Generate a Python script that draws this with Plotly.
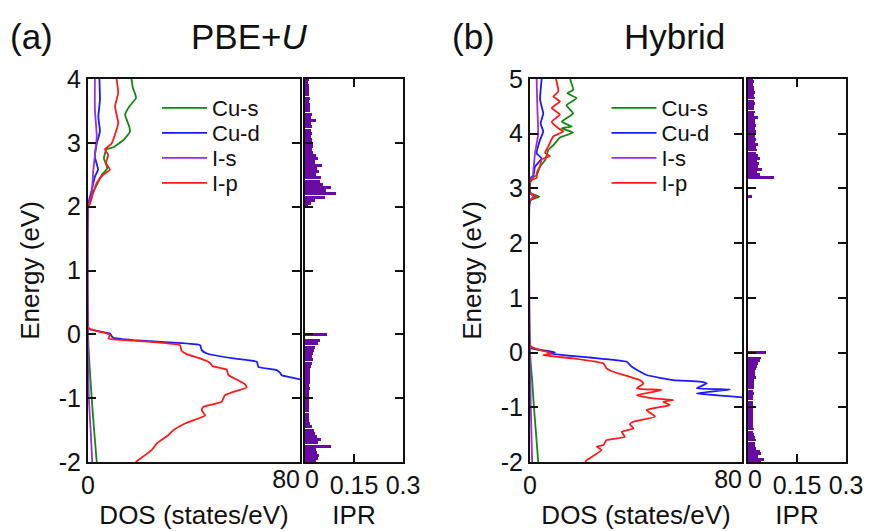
import plotly.graph_objects as go

W, H = 872, 531
def px(x): return x / W
def py(y): return 1 - y / H

# ---------------- data ----------------
series_names = ["Cu-s", "Cu-d", "I-s", "I-p"]
series_colors = ["#118a11", "#1a1aff", "#9a30d8", "#ff1a1a"]

# Panel (a) PBE+U : projected DOS (states/eV) vs energy (eV)
a_cus_E = [4.0, 3.85, 3.78, 3.70, 3.57, 3.44, 3.25, 3.17, 3.04, 2.93, 2.90, 2.76, 2.60, 2.50, 2.34, 2.18, 2.03, 2.0,
           0.0, -0.5, -1.0, -1.5, -2.0]
a_cus_D = [16.4, 17.0, 17.7, 18.1, 15.6, 14.0, 15.6, 15.8, 13.3, 9.5, 7.0, 6.0, 7.3, 5.2, 3.3, 1.4, 0.5, 0.0,
           0.0, 0.6, 1.4, 2.3, 3.3]
a_cud_E = [4.0, 3.67, 3.41, 3.18, 2.99, 2.78, 2.58, 2.47, 2.26, 2.10, 2.0,
           0.10, 0.076, 0.014, -0.028, -0.054, -0.09, -0.13, -0.169, -0.248, -0.30, -0.378, -0.43, -0.51, -0.561,
           -0.603, -0.64, -0.707, -0.80]
a_cud_D = [4.3, 4.5, 3.9, 4.5, 3.3, 2.6, 3.8, 2.6, 1.4, 0.4, 0.0,
           0.0, 0.8, 8.3, 8.9, 9.6, 17.1, 32.2, 42.3, 42.9, 44.8, 54.8, 63.7, 64.3, 71.2,
           72.5, 73.1, 80.0, 86.0]
a_is_E = [4.0, 3.52, 3.10, 2.57, 2.21, 2.05, 2.0, 0.0, -0.5, -1.0, -1.5, -2.0]
a_is_D = [2.6, 2.6, 3.3, 2.0, 1.4, 0.4, 0.0, 0.0, 0.1, 0.3, 1.0, 1.6]
a_ip_E = [4.0, 3.78, 3.57, 3.31, 3.13, 2.99, 2.90, 2.81, 2.68, 2.58, 2.50, 2.37, 2.21, 2.05, 2.0,
          0.12, 0.092, 0.039, 0.014, -0.013, -0.065, -0.10, -0.13, -0.169, -0.258, -0.31, -0.378, -0.446, -0.498,
          -0.551, -0.64, -0.707, -0.781, -0.833, -0.901, -0.953, -1.058, -1.136, -1.188, -1.266, -1.319, -1.397,
          -1.502, -1.58, -1.711, -1.815, -2.0]
a_ip_D = [10.8, 11.4, 10.2, 11.4, 10.2, 8.9, 6.4, 7.6, 6.8, 8.3, 5.7, 3.3, 1.9, 0.8, 0.0,
          0.0, 0.5, 4.5, 7.0, 8.3, 7.7, 17.1, 27.2, 34.7, 35.3, 37.2, 42.3, 46.0, 47.0,
          52.3, 53.0, 56.1, 59.2, 59.9, 54.8, 51.7, 50.4, 43.5, 42.9, 44.2, 41.6, 36.6,
          32.2, 30.3, 25.9, 24.0, 18.0]

# Panel (b) Hybrid
b_cus_E = [5.0, 4.80, 4.74, 4.65, 4.52, 4.37, 4.22, 4.13, 4.10, 4.02, 3.93, 3.79, 3.70, 3.52, 3.40, 3.24, 3.21, 3.15,
           3.10, 2.92, 2.85, 2.78, 0.0, -0.5, -1.0, -1.5, -2.0]
b_cus_D = [15.1, 16.3, 14.1, 17.6, 13.8, 16.3, 12.0, 15.7, 12.0, 16.3, 11.3, 8.8, 6.9, 5.7, 3.8, 2.5, 1.3, 0.6,
           0.0, 0.0, 3.5, 0.0, 0.0, 0.8, 1.5, 2.3, 3.1]
b_cud_E = [5.0, 4.62, 4.37, 4.19, 4.04, 3.89, 3.64, 3.55, 3.40, 3.24, 3.18, 2.92, 2.85, 2.78,
           0.10, 0.077, 0.003, -0.015, -0.09, -0.168, -0.26, -0.41, -0.503, -0.53, -0.563, -0.655, -0.674,
           -0.747, -0.82, -0.86]
b_cud_D = [4.4, 3.8, 5.0, 4.0, 5.0, 3.8, 2.5, 4.4, 1.9, 1.3, 0.0, 0.0, 2.0, 0.0,
           0.0, 0.6, 9.4, 6.9, 22.6, 36.5, 38.4, 44.0, 54.1, 64.2, 66.7, 62.9, 75.5,
           62.9, 79.9, 84.0]
b_is_E = [5.0, 4.43, 4.00, 3.64, 3.34, 3.21, 3.18, 2.92, 2.85, 2.78, 0.0, -1.0, -2.0]
b_is_D = [2.5, 2.8, 3.1, 1.9, 1.3, 1.0, 0.0, 0.0, 1.3, 0.0, 0.0, 0.3, 0.8]
b_ip_E = [5.0, 4.77, 4.68, 4.59, 4.47, 4.35, 4.22, 4.10, 4.04, 3.95, 3.77, 3.65, 3.59, 3.53, 3.41, 3.28, 3.19, 3.16,
          3.12, 2.92, 2.85, 2.78,
          0.13, 0.106, 0.045, -0.015, -0.046, -0.107, -0.198, -0.29, -0.35, -0.503, -0.563, -0.655, -0.686,
          -0.777, -0.838, -0.868, -0.899, -0.96, -1.05, -1.17, -1.265, -1.31, -1.386, -1.45, -1.54, -1.60,
          -1.69, -1.72, -1.78, -1.965, -2.0]
b_ip_D = [9.8, 10.7, 8.8, 11.3, 8.2, 11.3, 8.2, 10.7, 12.6, 8.8, 6.9, 5.7, 7.5, 4.4, 3.8, 2.5, 2.5, 0.6,
          0.0, 0.0, 2.5, 0.0,
          0.0, 0.6, 3.8, 8.2, 5.0, 16.4, 27.7, 28.9, 31.4, 41.5, 42.8, 40.3, 49.7,
          40.3, 46.5, 54.1, 50.3, 52.8, 44.0, 47.2, 39.0, 37.7, 39.0, 34.6, 35.8, 28.9,
          27.7, 25.2, 27.0, 21.4, 20.8]

# IPR (inverse participation ratio) per state
a_ipr_E = [4.00, 3.95, 3.90, 3.85, 3.80, 3.75, 3.70, 3.65, 3.60, 3.55, 3.50, 3.45, 3.40, 3.35, 3.30, 3.25, 3.20,
           3.15, 3.10, 3.05, 3.00, 2.95, 2.90, 2.85, 2.80, 2.75, 2.70, 2.65, 2.60, 2.55, 2.50, 2.45, 2.40, 2.35,
           2.30, 2.25, 2.20, 2.15, 2.10, 2.05, 2.00,
           0.00, -0.10, -0.15, -0.20, -0.25, -0.30, -0.35, -0.40, -0.45, -0.50, -0.55, -0.60, -0.65, -0.70,
           -0.75, -0.80, -0.85, -0.90, -0.95, -1.00, -1.05, -1.10, -1.15, -1.20, -1.25, -1.30, -1.35, -1.40,
           -1.45, -1.50, -1.55, -1.60, -1.65, -1.70, -1.75, -1.80, -1.85, -1.90, -1.95, -2.00]
a_ipr_V = [0.012, 0.010, 0.012, 0.011, 0.013, 0.012, 0.014, 0.013, 0.015, 0.014, 0.016, 0.020, 0.018, 0.033,
           0.017, 0.020, 0.018, 0.022, 0.019, 0.021, 0.020, 0.024, 0.022, 0.026, 0.035, 0.040, 0.030, 0.052,
           0.038, 0.042, 0.035, 0.050, 0.045, 0.055, 0.079, 0.065, 0.096, 0.060, 0.030, 0.018, 0.010,
           0.068, 0.045, 0.040, 0.030, 0.028, 0.025, 0.022, 0.024, 0.020, 0.018, 0.016, 0.015, 0.016, 0.014,
           0.015, 0.013, 0.014, 0.012, 0.013, 0.012, 0.013, 0.011, 0.012, 0.011, 0.012, 0.011, 0.013, 0.015,
           0.020, 0.028, 0.030, 0.037, 0.048, 0.040, 0.081, 0.035, 0.038, 0.043, 0.040, 0.035]
b_ipr_E = [5.00, 4.95, 4.90, 4.85, 4.80, 4.75, 4.70, 4.65, 4.60, 4.55, 4.50, 4.45, 4.40, 4.35, 4.30, 4.25, 4.20,
           4.15, 4.10, 4.05, 4.00, 3.95, 3.90, 3.85, 3.80, 3.75, 3.70, 3.65, 3.60, 3.55, 3.50, 3.45, 3.40, 3.35,
           3.30, 3.25, 3.20, 2.85,
           0.00, -0.10, -0.15, -0.20, -0.25, -0.30, -0.35, -0.40, -0.45, -0.50, -0.55, -0.60, -0.65, -0.70,
           -0.75, -0.80, -0.85, -0.90, -0.95, -1.00, -1.05, -1.10, -1.15, -1.20, -1.25, -1.30, -1.35, -1.40,
           -1.45, -1.50, -1.55, -1.60, -1.65, -1.70, -1.75, -1.80, -1.85, -1.90, -1.95, -2.00]
b_ipr_V = [0.016, 0.018, 0.016, 0.019, 0.017, 0.020, 0.018, 0.021, 0.017, 0.020, 0.019, 0.018, 0.021, 0.019,
           0.031, 0.022, 0.020, 0.024, 0.020, 0.023, 0.026, 0.022, 0.025, 0.021, 0.030, 0.026, 0.028, 0.024,
           0.032, 0.036, 0.029, 0.033, 0.030, 0.043, 0.028, 0.038, 0.081, 0.012,
           0.054, 0.040, 0.036, 0.031, 0.027, 0.024, 0.022, 0.021, 0.023, 0.019, 0.018, 0.017, 0.018, 0.016,
           0.017, 0.016, 0.015, 0.016, 0.015, 0.016, 0.014, 0.015, 0.016, 0.015, 0.014, 0.016, 0.015, 0.017,
           0.016, 0.018, 0.020, 0.024, 0.020, 0.022, 0.026, 0.036, 0.041, 0.030, 0.049, 0.040]

# tick labels
a_y_ticks = [-2, -1, 0, 1, 2, 3, 4]
b_y_ticks = [-2, -1, 0, 1, 2, 3, 4, 5]
dos_range = [0, 80]
ipr_range = [0, 0.3]
dos_ticks, dos_ticktext = [0, 80], ["0", ""]
dos_end_tick, dos_end_text = [80], ["80"]
ipr_ticks, ipr_ticktext = [0, 0.15, 0.3], ["", "0.15", "0.3"]
ipr_start_tick, ipr_start_text = [0], ["0"]

# ---------------- figure ----------------
FONT = "Liberation Sans, Arial, Helvetica, sans-serif"
INK = "#111111"
IPR_COLOR = "#6a0aa5"

fig = go.Figure()

panels = [
    ("x", "y", "x2", "y2",
     [(a_cus_E, a_cus_D), (a_cud_E, a_cud_D), (a_is_E, a_is_D), (a_ip_E, a_ip_D)],
     (a_ipr_E, a_ipr_V), ["legend", "legend2", "legend3", "legend4"]),
    ("x3", "y3", "x4", "y4",
     [(b_cus_E, b_cus_D), (b_cud_E, b_cud_D), (b_is_E, b_is_D), (b_ip_E, b_ip_D)],
     (b_ipr_E, b_ipr_V), ["legend5", "legend6", "legend7", "legend8"]),
]

for xd, yd, xi, yi, curves, ipr, legs in panels:
    for (E, D), name, col, lg in zip(curves, series_names, series_colors, legs):
        fig.add_trace(go.Scatter(x=D, y=E, mode="lines", name=name, legend=lg,
                                 line=dict(color=col, width=1.8, shape="spline", smoothing=0.4),
                                 xaxis=xd, yaxis=yd))
    fig.add_trace(go.Bar(x=ipr[1], y=ipr[0], orientation="h", width=0.048, showlegend=False,
                         marker=dict(color=IPR_COLOR, line=dict(width=0)),
                         xaxis=xi, yaxis=yi))

# empty helper traces so that the overlay label axes get drawn
for xo, yo in (("x5", "y"), ("x6", "y2"), ("x7", "y3"), ("x8", "y4")):
    fig.add_trace(go.Scatter(x=[], y=[], xaxis=xo, yaxis=yo, showlegend=False, hoverinfo="skip"))

common = dict(showline=True, linewidth=2, linecolor=INK, mirror="ticks", ticks="inside",
              ticklen=8, tickwidth=1.5, tickcolor=INK, showgrid=False, zeroline=False,
              automargin=False, tickfont=dict(size=25, color=INK, family=FONT))
title_font = dict(size=26, color=INK, family=FONT)

ytop, ybot = py(79), py(462)
dom_a_dos = [px(88), px(300)]
dom_a_ipr = [px(305), px(403)]
dom_b_dos = [px(530), px(742)]
dom_b_ipr = [px(748), px(846)]

def yax(ticks, show, title=None, anchor="x"):
    d = dict(common, domain=[ybot, ytop], range=[ticks[0], ticks[-1]], tickvals=ticks,
             ticktext=[str(t) for t in ticks], showticklabels=show, anchor=anchor)
    if title:
        d["title"] = dict(text=title, font=title_font, standoff=12)
    return d

def xax(dom, rng, tv, tt, title, anchor):
    return dict(common, domain=dom, range=rng, tickvals=tv, ticktext=tt, anchor=anchor,
                title=dict(text=title, font=title_font, standoff=8))

def xlab(over, rng, tv, tt, pos, anchor):
    return dict(overlaying=over, anchor=anchor, side="bottom", range=rng, tickvals=tv, ticktext=tt,
                ticks="", showline=False, showgrid=False, zeroline=False, automargin=False,
                ticklabelposition=pos, tickfont=dict(size=25, color=INK, family=FONT))

fig.update_layout(
    width=W, height=H, margin=dict(l=0, r=0, t=0, b=0, autoexpand=False),
    paper_bgcolor="white", plot_bgcolor="white",
    font=dict(family=FONT, color=INK),
    bargap=0,
    xaxis=xax(dom_a_dos, dos_range, dos_ticks, dos_ticktext, "DOS (states/eV)", "y"),
    xaxis2=xax(dom_a_ipr, ipr_range, ipr_ticks, ipr_ticktext, "IPR", "y2"),
    xaxis3=xax(dom_b_dos, dos_range, dos_ticks, dos_ticktext, "DOS (states/eV)", "y3"),
    xaxis4=xax(dom_b_ipr, ipr_range, ipr_ticks, ipr_ticktext, "IPR", "y4"),
    xaxis5=xlab("x", dos_range, dos_end_tick, dos_end_text, "outside left", "y"),
    xaxis6=xlab("x2", ipr_range, ipr_start_tick, ipr_start_text, "outside right", "y2"),
    xaxis7=xlab("x3", dos_range, dos_end_tick, dos_end_text, "outside left", "y3"),
    xaxis8=xlab("x4", ipr_range, ipr_start_tick, ipr_start_text, "outside right", "y4"),
    yaxis=yax(a_y_ticks, True, "Energy (eV)", "x"),
    yaxis2=yax(a_y_ticks, False, None, "x2"),
    yaxis3=yax(b_y_ticks, True, "Energy (eV)", "x3"),
    yaxis4=yax(b_y_ticks, False, None, "x4"),
)

leg_y = [108, 133, 158, 183]
for i, yy in enumerate(leg_y):
    for base, lx in ((0, 157), (4, 606.5)):
        key = "legend" if base + i == 0 else f"legend{base + i + 1}"
        fig.update_layout({key: dict(x=px(lx), y=py(yy), xanchor="left", yanchor="middle",
                                     bgcolor="rgba(0,0,0,0)", borderwidth=0, itemwidth=45,
                                     font=dict(size=22, color=INK, family=FONT))})

ann = [("(a)", 31), ("PBE+<i>U</i>", 249), ("(b)", 473), ("Hybrid", 674)]
for txt, xx in ann:
    fig.add_annotation(text=txt, x=px(xx), y=py(36), xref="paper", yref="paper",
                       showarrow=False, xanchor="center", yanchor="middle",
                       font=dict(size=35, color=INK, family=FONT))

fig.write_html("out.html")
